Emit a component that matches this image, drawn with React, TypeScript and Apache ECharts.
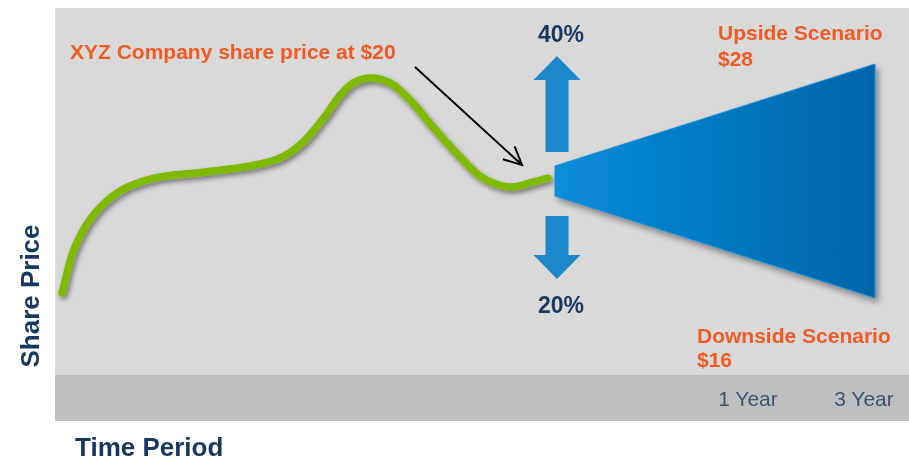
import React, { useEffect, useRef } from 'react';
import * as echarts from 'echarts';

// Price path (time units, price units)
const curveX = [7, 20, 40, 67, 100, 150, 200, 227, 247, 267, 287, 300, 317, 335, 352, 378, 405, 428, 455, 478, 493];
const curveY = [82, 128, 162, 185, 197, 203, 210, 218, 232, 255, 282, 293, 297, 292, 278, 248, 218, 197, 188, 193, 197];

// Scenario cone
const coneTime = [500, 820];
const coneLow = [179, 77];
const coneHigh = [209, 311];

// Up / down arrows
const arrowX = [502, 502];
const arrowBase = [223, 159];
const arrowHeadBase = [295, 120];
const arrowTip = [319, 96];

// Annotation pointer
const pointerFrom = [360, 308];
const pointerTo = [467, 210];

// Time period labels
const yearLabels = ['1 Year', '3 Year'];
const yearX = [693, 809];
const yearY = [-23, -23];

// Bottom band (price units)
const bandRange = [-46, 0];

const NAVY = '#17375e';
const ORANGE = '#f15a24';
const FONT = '"Liberation Sans", Arial, sans-serif';

// Centripetal Catmull-Rom rendering of pixel points into a smooth polyline
function splinePoints(pts: number[][], steps: number): number[][] {
  const out: number[][] = [];
  const n = pts.length;
  const dist = (a: number[], b: number[]) => Math.max(1e-6, Math.sqrt(Math.hypot(b[0] - a[0], b[1] - a[1])));
  for (let i = 0; i < n - 1; i++) {
    const p1 = pts[i];
    const p2 = pts[i + 1];
    const p0 = i > 0 ? pts[i - 1] : [2 * p1[0] - p2[0], 2 * p1[1] - p2[1]];
    const p3 = i + 2 < n ? pts[i + 2] : [2 * p2[0] - p1[0], 2 * p2[1] - p1[1]];
    const t0 = 0;
    const t1 = t0 + dist(p0, p1);
    const t2 = t1 + dist(p1, p2);
    const t3 = t2 + dist(p2, p3);
    for (let s = 0; s < steps; s++) {
      const t = t1 + ((t2 - t1) * s) / steps;
      const pt = [0, 1].map((k) => {
        const a1 = ((t1 - t) / (t1 - t0)) * p0[k] + ((t - t0) / (t1 - t0)) * p1[k];
        const a2 = ((t2 - t) / (t2 - t1)) * p1[k] + ((t - t1) / (t2 - t1)) * p2[k];
        const a3 = ((t3 - t) / (t3 - t2)) * p2[k] + ((t - t2) / (t3 - t2)) * p3[k];
        const b1 = ((t2 - t) / (t2 - t0)) * a1 + ((t - t0) / (t2 - t0)) * a2;
        const b2 = ((t3 - t) / (t3 - t1)) * a2 + ((t - t1) / (t3 - t1)) * a3;
        return ((t2 - t) / (t2 - t1)) * b1 + ((t - t1) / (t2 - t1)) * b2;
      });
      out.push(pt);
    }
  }
  out.push(pts[n - 1]);
  return out;
}

export default function App() {
  const ref = useRef<HTMLDivElement>(null);
  useEffect(() => {
    if (!ref.current) return;
    const chart = echarts.init(ref.current, null, { renderer: 'svg' });
    const option: any = {
      animation: false,
      grid: { left: 55, right: 0, top: 8, bottom: 40, show: true, backgroundColor: '#d9d9d9', borderWidth: 0 },
      xAxis: { type: 'value', min: 0, max: 854, show: false },
      yAxis: { type: 'value', min: -46, max: 367, show: false },
      series: [
        {
          type: 'custom',
          data: curveX.map((x, i) => [x, curveY[i]]),
          renderItem: (params: any, api: any) => {
            if (params.dataIndex !== 0) return null;
            const px = curveX.map((x, i) => api.coord([x, curveY[i]]));
            return {
              type: 'polyline',
              shape: { points: splinePoints(px, 14) },
              style: {
                stroke: '#7fba00', lineWidth: 7.5, lineCap: 'round', lineJoin: 'round', fill: 'none',
                shadowColor: 'rgba(0,0,0,0.45)', shadowBlur: 5, shadowOffsetX: 2, shadowOffsetY: 3,
              },
            };
          },
          markArea: {
            silent: true,
            itemStyle: { color: '#bfbfbf' },
            data: [[{ yAxis: bandRange[0] }, { yAxis: bandRange[1] }]],
          },
          z: 3,
        },
        {
          type: 'custom',
          data: [[coneTime[0], coneLow[0], coneHigh[0], coneTime[1], coneLow[1], coneHigh[1]]],
          renderItem: (params: any, api: any) => {
            const a = api.coord([api.value(0), api.value(2)]);
            const b = api.coord([api.value(3), api.value(5)]);
            const c = api.coord([api.value(3), api.value(4)]);
            const d = api.coord([api.value(0), api.value(1)]);
            return {
              type: 'polygon',
              shape: { points: [a, b, c, d] },
              style: {
                fill: new echarts.graphic.LinearGradient(0, 0, 1, 0, [
                  { offset: 0, color: '#088ddb' },
                  { offset: 1, color: '#0065a8' },
                ]),
                stroke: '#1a90d8',
                lineWidth: 1,
                shadowColor: 'rgba(0,0,0,0.4)',
                shadowBlur: 6,
                shadowOffsetX: 3,
                shadowOffsetY: 4,
              },
            };
          },
          z: 4,
        },
        {
          type: 'custom',
          data: arrowX.map((x, i) => [x, arrowBase[i], arrowHeadBase[i], arrowTip[i]]),
          renderItem: (params: any, api: any) => {
            const cx = api.value(0);
            const base = api.coord([cx, api.value(1)]);
            const hb = api.coord([cx, api.value(2)]);
            const tip = api.coord([cx, api.value(3)]);
            const sw = 11.5;
            const hw = 23.5;
            return {
              type: 'polygon',
              shape: {
                points: [
                  [base[0] - sw, base[1]],
                  [hb[0] - sw, hb[1]],
                  [hb[0] - hw, hb[1]],
                  [tip[0], tip[1]],
                  [hb[0] + hw, hb[1]],
                  [hb[0] + sw, hb[1]],
                  [base[0] + sw, base[1]],
                ],
              },
              style: { fill: '#1c87c9' },
            };
          },
          z: 4,
        },
        {
          type: 'custom',
          data: [[pointerFrom[0], pointerFrom[1], pointerTo[0], pointerTo[1]]],
          renderItem: (params: any, api: any) => {
            const p1 = api.coord([api.value(0), api.value(1)]);
            const p2 = api.coord([api.value(2), api.value(3)]);
            const ang = Math.atan2(p2[1] - p1[1], p2[0] - p1[0]);
            const L = 20;
            const spread = 0.45;
            const h1 = [p2[0] - L * Math.cos(ang - spread), p2[1] - L * Math.sin(ang - spread)];
            const h2 = [p2[0] - L * Math.cos(ang + spread), p2[1] - L * Math.sin(ang + spread)];
            return {
              type: 'group',
              children: [
                { type: 'line', shape: { x1: p1[0], y1: p1[1], x2: p2[0], y2: p2[1] }, style: { stroke: '#000', lineWidth: 2 } },
                { type: 'polyline', shape: { points: [h1, p2, h2] }, style: { stroke: '#000', lineWidth: 2, fill: 'none' } },
              ],
            };
          },
          z: 5,
        },
        {
          type: 'scatter',
          data: yearX.map((x, i) => [x, yearY[i]]),
          symbolSize: 1,
          itemStyle: { color: 'rgba(0,0,0,0)' },
          label: {
            show: true,
            position: 'inside',
            formatter: (p: any) => yearLabels[p.dataIndex],
            color: NAVY,
            fontSize: 21,
            fontFamily: FONT,
          },
          z: 5,
        },
      ],
      graphic: [
        { type: 'text', x: 70, y: 51, style: { text: 'XYZ Company share price at $20', fill: ORANGE, font: `bold 21px ${FONT}`, textAlign: 'left', verticalAlign: 'middle', textVerticalAlign: 'middle' }, z: 10 },
        { type: 'text', x: 561, y: 34, style: { text: '40%', fill: NAVY, font: `bold 23px ${FONT}`, textAlign: 'center', verticalAlign: 'middle', textVerticalAlign: 'middle' }, z: 10 },
        { type: 'text', x: 561, y: 305, style: { text: '20%', fill: NAVY, font: `bold 23px ${FONT}`, textAlign: 'center', verticalAlign: 'middle', textVerticalAlign: 'middle' }, z: 10 },
        { type: 'text', x: 718, y: 32, style: { text: 'Upside Scenario', fill: ORANGE, font: `bold 21px ${FONT}`, textAlign: 'left', verticalAlign: 'middle', textVerticalAlign: 'middle' }, z: 10 },
        { type: 'text', x: 718, y: 58, style: { text: '$28', fill: ORANGE, font: `bold 21px ${FONT}`, textAlign: 'left', verticalAlign: 'middle', textVerticalAlign: 'middle' }, z: 10 },
        { type: 'text', x: 697, y: 335, style: { text: 'Downside Scenario', fill: ORANGE, font: `bold 21px ${FONT}`, textAlign: 'left', verticalAlign: 'middle', textVerticalAlign: 'middle' }, z: 10 },
        { type: 'text', x: 697, y: 359, style: { text: '$16', fill: ORANGE, font: `bold 21px ${FONT}`, textAlign: 'left', verticalAlign: 'middle', textVerticalAlign: 'middle' }, z: 10 },
        { type: 'text', x: 30, y: 296, rotation: Math.PI / 2, style: { text: 'Share Price', fill: NAVY, font: `bold 26px ${FONT}`, textAlign: 'center', verticalAlign: 'middle', textVerticalAlign: 'middle' }, z: 10 },
        { type: 'text', x: 75, y: 447, style: { text: 'Time Period', fill: NAVY, font: `bold 26px ${FONT}`, textAlign: 'left', verticalAlign: 'middle', textVerticalAlign: 'middle' }, z: 10 },
      ],
    };
    chart.setOption(option);
    return () => chart.dispose();
  }, []);
  return <div ref={ref} style={{ position: 'fixed', left: 0, top: 0, width: 909, height: 461 }} />;
}
